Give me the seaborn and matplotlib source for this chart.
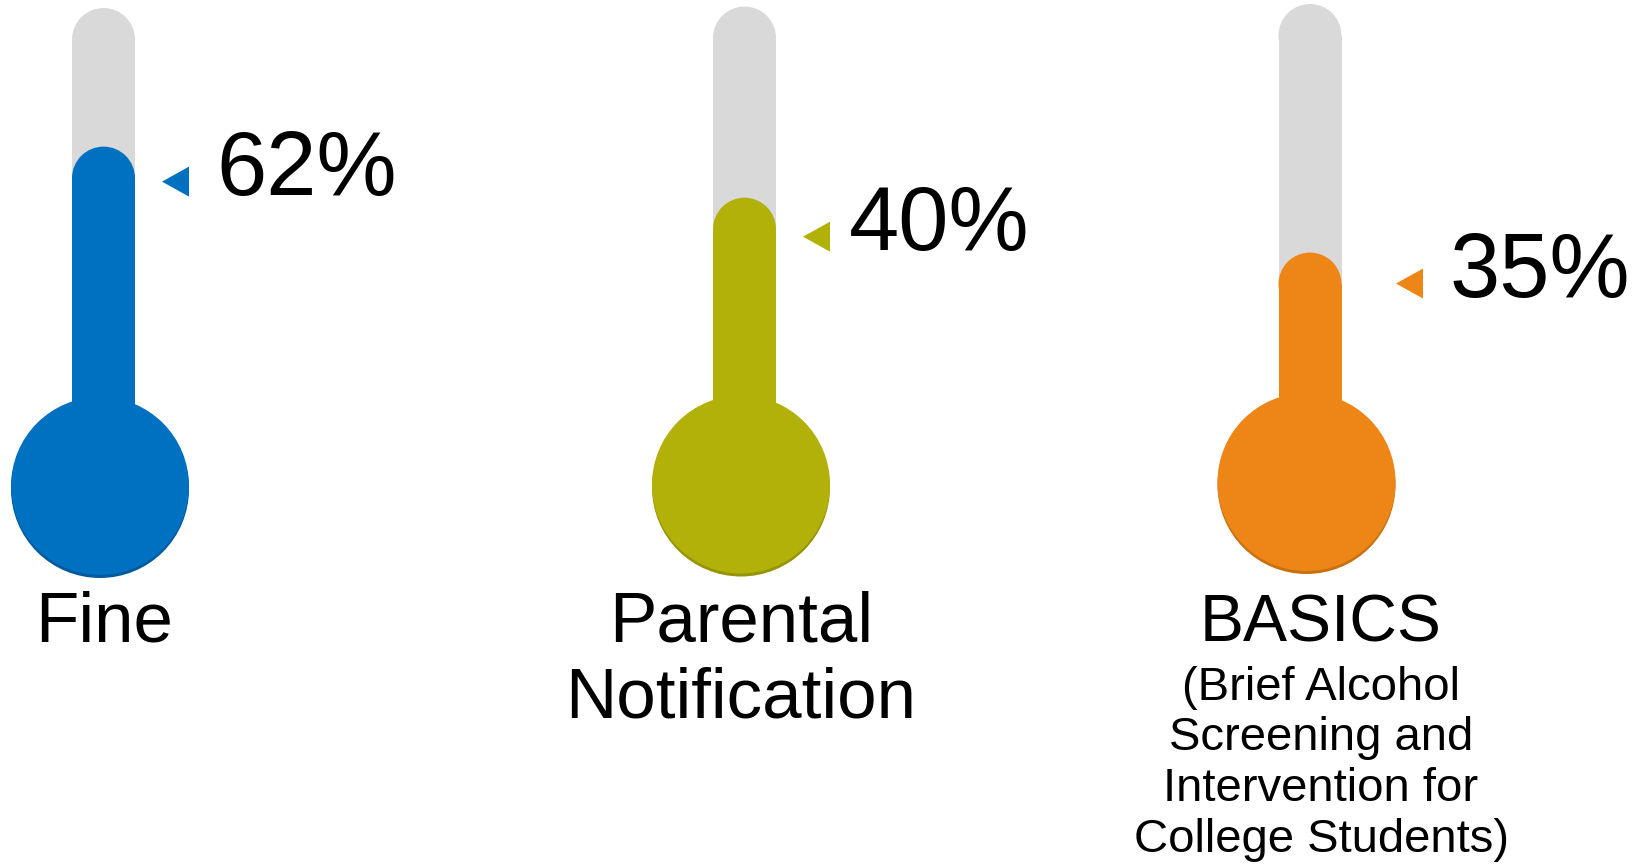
import pandas as pd
import matplotlib.pyplot as plt
import seaborn as sns
from matplotlib.patches import Circle, Polygon

# data
categories = ['Fine', 'Parental\nNotification', 'BASICS']
subtitles = ['', '', '(Brief Alcohol\nScreening and\nIntervention for\nCollege Students)']
values = [62, 40, 35]
# height of the coloured column as drawn (0 = bulb centre, 100 = top of tube)
fill_levels = [71, 60, 48]
colors = ['#0070C0', '#B2B109', '#EE8617']
shadow_colors = ['#005A9C', '#959406', '#C87010']
tube_grey = '#D9D9D9'

sns.set_theme(style='white')
plt.rcParams['font.family'] = ['Liberation Sans', 'DejaVu Sans']

W, H = 1650, 864
S = 4.78                 # pixels per gauge unit
R_TUBE = 31.5 / S
R_BULB = 89 / S

# layout, in pixels
tube_cx = [103.5, 744.5, 1310]
bulb_cy = [486, 484.5, 482]
marker_dx = [58.5, 58.5, 86]
marker_dy = [35, 39, 31]
value_dx = [54, 46, 54]
label_dx = [1, -3.5, 11]
label_size = [51, 51, 47.5]

df = pd.DataFrame({'category': categories, 'value': values, 'level': fill_levels})

fig = plt.figure(figsize=(W / 100, H / 100), dpi=100)

for i in range(len(df)):
    cx, cy = tube_cx[i], bulb_cy[i]
    ax = fig.add_axes([(cx - 150) / W, 0, 300 / W, 1])
    one = df.iloc[[i]]

    # tube (grey) and coloured column
    sns.barplot(data=one.assign(body=100 - R_TUBE), x='category', y='body',
                color=tube_grey, width=2 * R_TUBE, saturation=1,
                errorbar=None, linewidth=0, ax=ax)
    sns.barplot(data=one.assign(body=one['level'] - R_TUBE), x='category', y='body',
                color=colors[i], width=2 * R_TUBE, saturation=1,
                errorbar=None, linewidth=0, ax=ax)
    level = one['level'].iloc[0]
    ax.add_patch(Circle((0, 100 - R_TUBE), R_TUBE, color=tube_grey, lw=0, zorder=1.5))
    ax.add_patch(Circle((0, level - R_TUBE), R_TUBE, color=colors[i], lw=0, zorder=2))

    # bulb with a soft darker rim at the bottom
    bx = -3.5 / S
    ax.add_patch(Circle((bx, -3 / S), R_BULB, color=shadow_colors[i], lw=0, zorder=3))
    ax.add_patch(Circle((bx, 0), R_BULB, color=colors[i], lw=0, zorder=4))

    # pointer + value
    ty = level - marker_dy[i] / S
    mx = marker_dx[i] / S
    ax.add_patch(Polygon([(mx, ty), (mx + 27 / S, ty + 15 / S), (mx + 27 / S, ty - 15 / S)],
                         closed=True, color=colors[i], lw=0, zorder=4))
    ax.text(mx + value_dx[i] / S, ty - 13.5 / S, f"{one['value'].iloc[0]}%", ha='left',
            va='baseline', fontsize=65, color='black')

    # category label under the bulb
    for j, line in enumerate(categories[i].split('\n')):
        ax.text(label_dx[i] / S, (cy - (641 + 76 * j)) / S, line, ha='center',
                va='baseline', fontsize=label_size[i], color='black')
    if subtitles[i]:
        for j, line in enumerate(subtitles[i].split('\n')):
            ax.text(label_dx[i] / S, (cy - (700 + 50.5 * j)) / S, line, ha='center',
                    va='baseline', fontsize=34, color='black')

    ax.set_xlim(-150 / S, 150 / S)
    ax.set_ylim((cy - H) / S, cy / S)
    ax.set_axis_off()

fig.savefig('out.png', dpi=100)
